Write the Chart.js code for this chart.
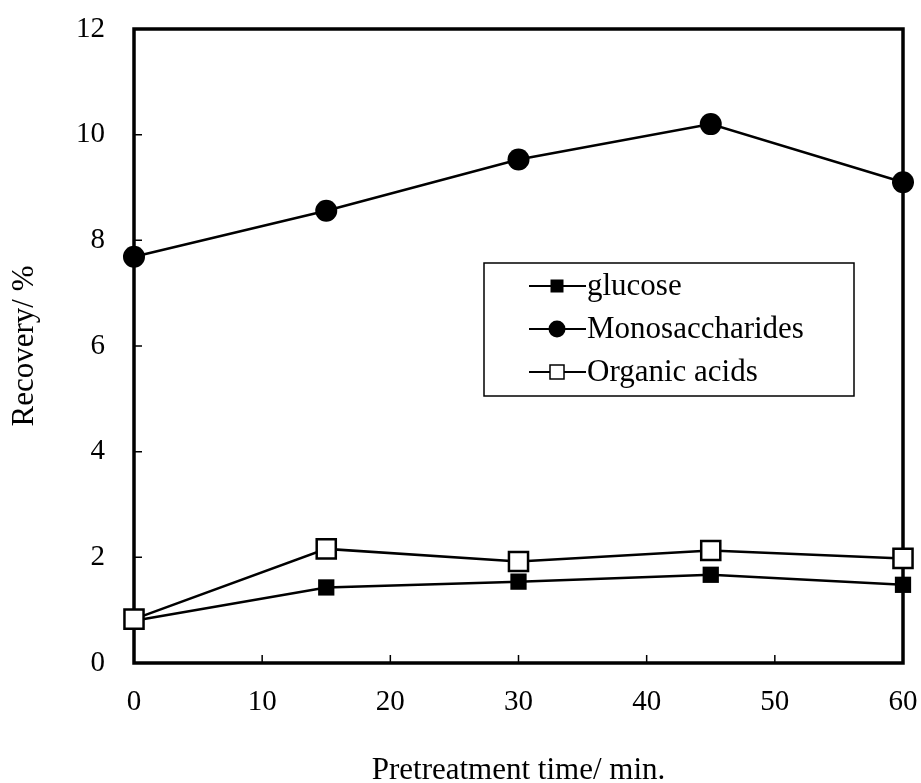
<!DOCTYPE html>
<html>
<head>
<meta charset="utf-8">
<script src="https://cdn.jsdelivr.net/npm/chart.js@4"></script>
<style>
  html, body { margin: 0; padding: 0; background: #fff; }
  #wrap { width: 921px; height: 783px; }
</style>
</head>
<body>
<div id="wrap"><canvas id="recoveryChart" width="921" height="783"></canvas></div>
<script>
// pretreatment time (min) and recovery (%)
const times = [0, 15, 30, 45, 60];
const glucose = [0.80, 1.43, 1.54, 1.67, 1.48];
const monosaccharides = [7.69, 8.56, 9.53, 10.20, 9.10];
const organicAcids = [0.83, 2.16, 1.92, 2.13, 1.98];

const xTicks = [0, 10, 20, 30, 40, 50, 60];
const yTicks = [0, 2, 4, 6, 8, 10, 12];

const serif = "'Liberation Serif', 'Times New Roman', serif";

function points(values) {
    return times.map((t, i) => ({ x: t, y: values[i] }));
}

// frame around the plot area plus inward tick marks
const framePlugin = {
    id: "frame",
    beforeDatasetsDraw(chart) {
        const { ctx, chartArea: a, scales } = chart;
        ctx.save();
        ctx.strokeStyle = "#000";
        ctx.lineWidth = 1.5;
        ctx.beginPath();
        xTicks.forEach(v => {
            const px = scales.x.getPixelForValue(v);
            ctx.moveTo(px, a.bottom);
            ctx.lineTo(px, a.bottom - 8);
        });
        yTicks.forEach(v => {
            const py = scales.y.getPixelForValue(v);
            ctx.moveTo(a.left, py);
            ctx.lineTo(a.left + 8, py);
        });
        ctx.stroke();
        ctx.lineWidth = 3.5;
        ctx.strokeRect(a.left, a.top, a.right - a.left, a.bottom - a.top);
        ctx.restore();
    }
};

// boxed legend inside the plot
const legendBox = {
    id: "legendBox",
    afterDraw(chart) {
        const { ctx } = chart;
        const box = { x: 484, y: 263, w: 370, h: 133 };
        ctx.save();
        ctx.fillStyle = "#fff";
        ctx.fillRect(box.x, box.y, box.w, box.h);
        ctx.strokeStyle = "#000";
        ctx.lineWidth = 1.5;
        ctx.strokeRect(box.x, box.y, box.w, box.h);

        const rows = [286, 329, 372];
        ctx.font = "31px " + serif;
        ctx.textBaseline = "middle";
        chart.data.datasets.forEach((ds, i) => {
            const y = rows[i];
            ctx.strokeStyle = "#000";
            ctx.lineWidth = 2;
            ctx.beginPath();
            ctx.moveTo(529, y);
            ctx.lineTo(586, y);
            ctx.stroke();
            ctx.fillStyle = ds.pointBackgroundColor;
            ctx.lineWidth = 1.5;
            if (ds.pointStyle === "circle") {
                ctx.beginPath();
                ctx.arc(557, y, 8.5, 0, Math.PI * 2);
                ctx.fill();
            } else {
                const s = ds.label === "glucose" ? 6.5 : 7;
                ctx.fillRect(557 - s, y - s, 2 * s, 2 * s);
                if (ds.pointBorderWidth) ctx.strokeRect(557 - s, y - s, 2 * s, 2 * s);
            }
            ctx.fillStyle = "#000";
            ctx.fillText(ds.label, 587, y + 1);
        });
        ctx.restore();
    }
};

new Chart(document.getElementById("recoveryChart"), {
    type: "line",
    data: {
        datasets: [
            {
                label: "glucose",
                data: points(glucose),
                borderColor: "#000",
                borderWidth: 2.5,
                pointStyle: "rect",
                pointRadius: 11.5,
                pointBorderWidth: 0,
                pointBackgroundColor: "#000",
                order: 1
            },
            {
                label: "Monosaccharides",
                data: points(monosaccharides),
                borderColor: "#000",
                borderWidth: 2.5,
                pointStyle: "circle",
                pointRadius: 11,
                pointBorderWidth: 0,
                pointBackgroundColor: "#000",
                order: 1
            },
            {
                label: "Organic acids",
                data: points(organicAcids),
                borderColor: "#000",
                borderWidth: 2.5,
                pointStyle: "rect",
                pointRadius: 13.5,
                pointBorderWidth: 2.5,
                pointBorderColor: "#000",
                pointBackgroundColor: "#fff",
                order: 0
            }
        ]
    },
    options: {
        responsive: false,
        animation: false,
        clip: false,
        layout: { padding: { left: 0, top: 29, right: 18, bottom: 0 } },
        plugins: {
            legend: { display: false },
            tooltip: { enabled: false }
        },
        elements: { line: { tension: 0 } },
        scales: {
            x: {
                type: "linear",
                min: 0,
                max: 60,
                afterBuildTicks: s => { s.ticks = xTicks.map(v => ({ value: v })); },
                afterFit: s => { s.height = 120; s.paddingLeft = 0; s.paddingRight = 0; },
                grid: { display: false, drawTicks: false },
                border: { display: false },
                ticks: {
                    color: "#000",
                    padding: 22,
                    font: { family: serif, size: 29 }
                },
                title: {
                    display: true,
                    text: "Pretreatment time/ min.",
                    color: "#000",
                    padding: { top: -6, bottom: -6 },
                    font: { family: serif, size: 31 }
                }
            },
            y: {
                min: 0,
                max: 12,
                afterBuildTicks: s => { s.ticks = yTicks.map(v => ({ value: v })); },
                afterFit: s => { s.width = 134; s.paddingTop = 0; s.paddingBottom = 0; },
                grid: { display: false, drawTicks: false },
                border: { display: false },
                ticks: {
                    color: "#000",
                    padding: 29,
                    font: { family: serif, size: 29 }
                },
                title: {
                    display: true,
                    text: "Recovery/ %",
                    color: "#000",
                    padding: { top: 6, bottom: 6 },
                    font: { family: serif, size: 31 }
                }
            }
        }
    },
    plugins: [framePlugin, legendBox]
});
</script>
</body>
</html>
